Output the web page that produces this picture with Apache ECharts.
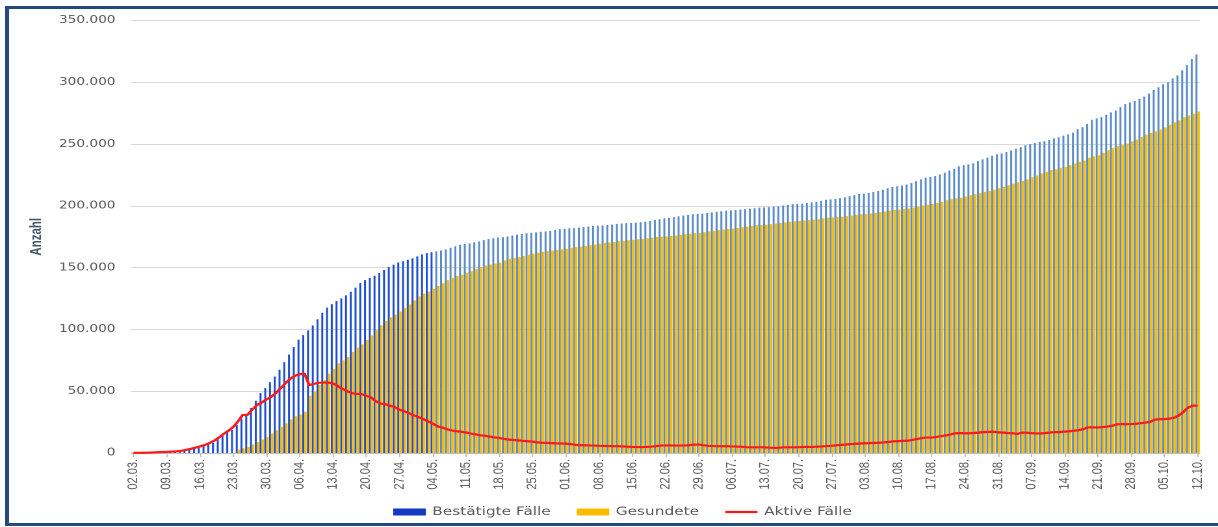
<!DOCTYPE html>
<html>
<head>
<meta charset="utf-8">
<script src="https://cdn.jsdelivr.net/npm/echarts@6/dist/echarts.min.js"></script>
<style>
  html, body { margin: 0; padding: 0; background: #fff; }
  #wrap { position: relative; width: 1218px; height: 527px; overflow: hidden; background: #fff; }
  #chart { position: absolute; left: 0; top: 0; width: 937px; height: 527px; transform: scaleX(1.3); transform-origin: 0 0; }
  .bd { position: absolute; background: #24497c; }
</style>
</head>
<body>
<div id="wrap">
  <div id="chart"></div>
  <div class="bd" style="left:5px;top:6px;width:1213px;height:3px;"></div>
  <div class="bd" style="left:5px;top:6px;width:4px;height:520px;"></div>
  <div class="bd" style="left:5px;top:523px;width:1213px;height:3px;"></div>
</div>
<script>
// ---- data (02.03. – 12.10., one value per day) ----
const startDate = [2020, 3, 2];
const dayCount = 225;

const seriesNames = ['Bestätigte Fälle', 'Gesundete', 'Aktive Fälle'];

const confirmed = [
  130, 157, 196, 262, 400, 639, 795, 902, 1139, 1296,
  1567, 2369, 3062, 3795, 4838, 6012, 7156, 8198, 10999, 13957,
  16662, 18610, 22672, 27436, 31554, 36508, 42288, 48582, 52547, 57298,
  61913, 67366, 73522, 79696, 85778, 91714, 95391, 99225, 103228, 108202,
  113525, 117658, 120479, 123016, 125098, 127584, 130450, 133830, 137439, 139897,
  141672, 143457, 145694, 148046, 150383, 152438, 154175, 155193, 156337, 157641,
  159119, 160758, 161703, 162496, 163175, 163860, 164807, 166091, 167300, 168551,
  169218, 169575, 170508, 171306, 172239, 173152, 173772, 174355, 174697, 175210,
  176007, 176752, 177212, 177850, 178281, 178570, 179002, 179364, 179717, 180458,
  181196, 181482, 181815, 182028, 182370, 182764, 183271, 183678, 183979, 184193,
  184543, 184861, 185416, 185674, 186022, 186269, 186461, 186839, 187184, 187764,
  188534, 189135, 189822, 190359, 190862, 191449, 192079, 192556, 193243, 193499,
  193761, 194259, 194725, 195228, 195674, 196096, 196335, 196554, 196944, 197341,
  197783, 198178, 198556, 198804, 198963, 199375, 199726, 200260, 200843, 201372,
  201574, 201823, 202345, 202799, 203368, 204183, 204964, 205269, 205609, 206242,
  206926, 207828, 208698, 209653, 209893, 210402, 211281, 212022, 213067, 214214,
  215336, 215891, 216327, 217293, 218519, 219964, 221413, 222828, 223453, 224014,
  225404, 226914, 228621, 230048, 232082, 232864, 233575, 234494, 236122, 237625,
  239010, 240571, 241771, 242381, 243599, 244802, 246166, 247411, 248997, 249985,
  250800, 251700, 252300, 253300, 254500, 255500, 256800, 257800, 259300, 262000,
  263700, 266200, 269700, 270800, 271800, 273700, 275600, 277200, 279900, 282300,
  283600, 285000, 286600, 288500, 290900, 293800, 296000, 298400, 300000, 303200,
  305600, 309700, 313900, 318800, 322500
];

const recovered = [
  0, 0, 0, 0, 0, 0, 0, 0, 0, 0,
  0, 0, 0, 0, 0, 0, 0, 0, 0, 0,
  0, 0, 2900, 3800, 5000, 7000, 9000, 11000, 13000, 15800,
  18500, 21200, 24000, 27200, 29800, 31300, 33400, 46300, 49700, 55000,
  59000, 64300, 68200, 72600, 75000, 77600, 81800, 85400, 88000, 91500,
  95200, 99400, 103300, 106800, 109800, 112000, 114500, 117400, 120400, 123500,
  126900, 129000, 130600, 132700, 135100, 137400, 139900, 141700, 143300, 144400,
  145600, 147200, 148700, 150300, 151700, 152600, 153400, 154200, 155900, 157200,
  158000, 158500, 159500, 160500, 161300, 162200, 162900, 163400, 163900, 164400,
  164900, 165300, 166100, 166600, 167100, 167600, 168200, 168700, 169300, 170000,
  170400, 170800, 171400, 171800, 172200, 172600, 173000, 173300, 173800, 174300,
  174800, 175100, 175300, 175600, 176100, 176500, 177100, 177500, 177900, 178100,
  178700, 179300, 179900, 180500, 181000, 181400, 181700, 182200, 182700, 183200,
  183800, 184300, 184600, 184800, 185200, 185600, 186100, 186600, 187100, 187400,
  187800, 188100, 188500, 188900, 189300, 189900, 190400, 190600, 190900, 191300,
  191700, 192200, 192700, 193300, 193500, 193800, 194300, 194800, 195400, 196100,
  196700, 197000, 197400, 197900, 198600, 199300, 200300, 200900, 201600, 202400,
  203300, 204600, 205400, 206200, 206700, 207500, 208600, 209400, 210200, 211300,
  212100, 213100, 214200, 215300, 216600, 218000, 219000, 220100, 221400, 223300,
  224700, 226300, 227600, 229000, 229500, 230800, 231400, 233000, 234300, 235700,
  236700, 238900, 240000, 241000, 242900, 245000, 246900, 248300, 249100, 250400,
  252300, 253600, 255800, 257600, 259000, 260300, 261700, 263500, 265700, 267600,
  269200, 271800, 273200, 274500, 276400
];

const active = [
  100, 150, 200, 250, 400, 600, 800, 900, 1100, 1300,
  1700, 2500, 3300, 4300, 5300, 6400, 8000, 10000, 12500, 15500,
  18000, 21000, 25500, 30800, 30800, 35000, 38800, 40800, 43400, 45500,
  48600, 52500, 56500, 60000, 62500, 63800, 64300, 55000, 56000, 56800,
  57000, 57000, 56300, 54300, 51800, 50000, 48500, 47800, 47800, 46200,
  45000, 42000, 40000, 39500, 38300, 37200, 35000, 33800, 32200, 30500,
  29000, 27500, 25600, 23800, 21600, 20600, 19200, 18300, 17600, 17200,
  16600, 15700, 15100, 14300, 13900, 13300, 12600, 12200, 11400, 10800,
  10500, 10200, 9800, 9500, 9200, 8600, 8300, 8200, 8000, 7800,
  7700, 7600, 7200, 6600, 6400, 6300, 6100, 6000, 5800, 5700,
  5600, 5500, 5500, 5300, 5100, 4900, 4800, 4800, 4900, 5100,
  5500, 6000, 6100, 6100, 6000, 6000, 6100, 6300, 6800, 6900,
  6200, 5800, 5600, 5500, 5500, 5500, 5300, 5200, 5000, 4700,
  4600, 4600, 4600, 4500, 4300, 4100, 4300, 4600, 4600, 4600,
  4700, 4900, 4900, 4900, 5100, 5400, 5600, 5800, 6200, 6600,
  6900, 7200, 7500, 7700, 7900, 8000, 8200, 8300, 8600, 9000,
  9400, 9600, 9800, 10000, 10600, 11400, 12200, 12500, 12500, 13000,
  13600, 14200, 15000, 16000, 16100, 16000, 16000, 16200, 16600, 16900,
  17100, 17200, 16800, 16500, 16200, 16000, 15400, 16500, 16400, 16100,
  15900, 15800, 16200, 16600, 16900, 17000, 17300, 17600, 18000, 18500,
  19400, 20800, 20700, 20700, 21000, 21400, 22000, 23200, 23400, 23300,
  23400, 23600, 24100, 24600, 25200, 27000, 27300, 27400, 27800, 28500,
  30300, 33300, 36800, 38300, 38400
];

const yMin = 0, yMax = 350000, yStep = 50000;
const yAxisName = 'Anzahl';

// ---- categories dd.mm. ----
function pad(n) { return (n < 10 ? '0' : '') + n; }
const categories = [];
for (let i = 0; i < dayCount; i++) {
  const d = new Date(Date.UTC(startDate[0], startDate[1] - 1, startDate[2] + i));
  categories.push(pad(d.getUTCDate()) + '.' + pad(d.getUTCMonth() + 1) + '.');
}

function fmt(v) {
  return String(v).replace(/\B(?=(\d{3})+(?!\d))/g, '.');
}

const blueDark = '#1f4fcf', blueLight = '#5b8cc6', legendBlue = '#1238c4';
const confirmedData = confirmed.map((v, i) => ({
  value: v,
  itemStyle: { color: i <= 63 ? blueDark : blueLight }
}));

const chart = echarts.init(document.getElementById('chart'), null, { renderer: 'canvas', devicePixelRatio: 2 });
chart.setOption({
  animation: false,
  backgroundColor: 'transparent',
  grid: { left: 100.8, right: 13.9, top: 20.5, bottom: 74, containLabel: false },
  legend: {
    left: 297.5,
    top: 501,
    itemWidth: 25,
    itemHeight: 7,
    itemGap: 20,
    textStyle: { fontFamily: 'DejaVu Sans', fontSize: 11.8, color: '#595959' },
    data: [
      { name: seriesNames[0], icon: 'rect' },
      { name: seriesNames[1], icon: 'rect' },
      { name: seriesNames[2], icon: 'path://M0,0L25,0L25,2.2L0,2.2Z' }
    ]
  },
  xAxis: {
    type: 'category',
    data: categories,
    boundaryGap: true,
    axisLine: { show: true, lineStyle: { color: '#bfbfbf', width: 1 } },
    axisTick: { show: true, interval: 6, alignWithLabel: true, length: 4, lineStyle: { color: '#bfbfbf' } },
    axisLabel: {
      interval: 6,
      rotate: 90,
      margin: 6,
      fontFamily: 'Liberation Sans',
      fontSize: 11,
      color: '#595959'
    },
    splitLine: { show: false }
  },
  yAxis: {
    type: 'value',
    min: yMin,
    max: yMax,
    interval: yStep,
    name: yAxisName,
    nameLocation: 'middle',
    nameRotate: 90,
    nameGap: 56,
    nameTextStyle: { fontFamily: 'Liberation Sans', fontWeight: 'bold', fontSize: 11.5, color: '#44546a' },
    axisLine: { show: false },
    axisTick: { show: false },
    axisLabel: {
      margin: 12,
      fontFamily: 'DejaVu Sans',
      fontSize: 10.5,
      color: '#595959',
      formatter: fmt
    },
    splitLine: { show: true, lineStyle: { color: '#d9d9d9', width: 1 } }
  },
  series: [
    {
      name: seriesNames[0],
      type: 'bar',
      data: confirmedData,
      barWidth: 1.5,
      barGap: '0%',
      itemStyle: { color: legendBlue }
    },
    {
      name: seriesNames[1],
      type: 'bar',
      data: recovered,
      barWidth: 1.85,
      barGap: '0%',
      itemStyle: { color: '#fbbc00' }
    },
    {
      name: seriesNames[2],
      type: 'line',
      data: active,
      symbol: 'none',
      showSymbol: false,
      smooth: false,
      z: 5,
      lineStyle: { color: '#ff1a1a', width: 2.2 },
      itemStyle: { color: '#ff1a1a' }
    }
  ]
});
</script>
</body>
</html>
